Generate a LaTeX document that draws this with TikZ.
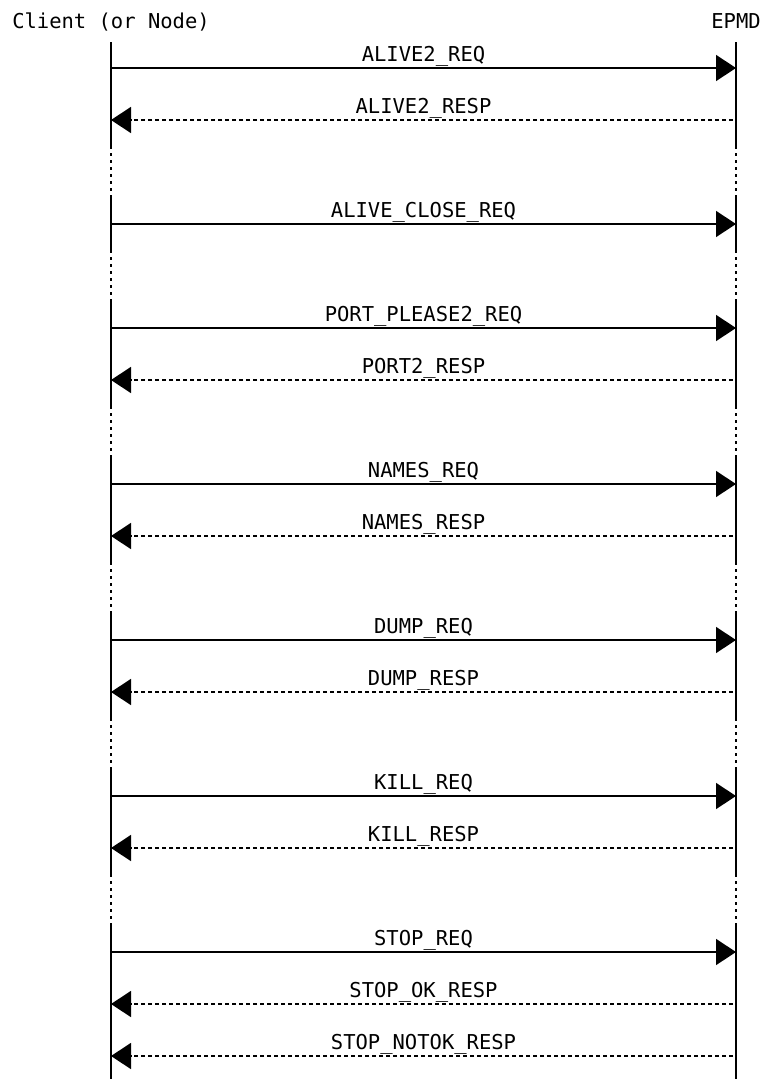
\documentclass[tikz,border=0pt]{standalone}
\usepackage{fontspec}
\setmonofont{DejaVu Sans Mono}
\usetikzlibrary{arrows.meta}

\begin{document}
\begin{tikzpicture}[x=1pt, y=-1pt,
  msglabel/.style={font=\ttfamily\fontsize{20.5}{24}\selectfont, anchor=base, inner sep=0pt},
  lifeline/.style={line width=1.8pt},
  gapline/.style={line width=1.8pt, dash pattern=on 3pt off 4pt},
  reqline/.style={line width=1.5pt, -{Triangle[length=20pt, width=26pt]}},
  respline/.style={line width=1.5pt, dash pattern=on 4pt off 3pt, -{Triangle[length=20pt, width=26pt]}}]
  \useasboundingbox (0,0) rectangle (760,1079);
  % Entities
  \node[msglabel] (client) at (111,28) {Client (or Node)};
  \node[msglabel] (epmd) at (736,28) {EPMD};
  % Lifelines, solid inside a block
  \foreach \a/\b in {0/2, 3/4, 5/7, 8/10, 11/13, 14/16, 17/20.7} {
    \coordinate (cs\a) at (111, 42+52*\a);
    \coordinate (ce\a) at (111, 42+52*\b);
    \coordinate (es\a) at (736, 42+52*\a);
    \coordinate (ee\a) at (736, 42+52*\b);
    \draw[lifeline] (cs\a) -- (ce\a);
    \draw[lifeline] (es\a) -- (ee\a);
  }
  % Lifelines, dotted between blocks
  \foreach \r in {2, 4, 7, 10, 13, 16} {
    \coordinate (cg\r) at (111, 42+52*\r);
    \coordinate (ch\r) at (111, 94+52*\r);
    \coordinate (eg\r) at (736, 42+52*\r);
    \coordinate (eh\r) at (736, 94+52*\r);
    \draw[gapline] (cg\r) -- (ch\r);
    \draw[gapline] (eg\r) -- (eh\r);
  }
  % Requests
  \foreach \r/\lab in {0/ALIVE2\_REQ, 3/ALIVE\_CLOSE\_REQ, 5/PORT\_PLEASE2\_REQ, 8/NAMES\_REQ,
                       11/DUMP\_REQ, 14/KILL\_REQ, 17/STOP\_REQ} {
    \coordinate (c\r) at (111, 68+52*\r);
    \coordinate (e\r) at (736, 68+52*\r);
    \draw[reqline] (c\r) -- (e\r);
    \node[msglabel] (l\r) at (423.5, 61+52*\r) {\lab};
  }
  % Responses
  \foreach \r/\lab in {1/ALIVE2\_RESP, 6/PORT2\_RESP, 9/NAMES\_RESP, 12/DUMP\_RESP,
                       15/KILL\_RESP, 18/STOP\_OK\_RESP, 19/STOP\_NOTOK\_RESP} {
    \coordinate (c\r) at (111, 68+52*\r);
    \coordinate (e\r) at (733, 68+52*\r);
    \draw[respline] (e\r) -- (c\r);
    \node[msglabel] (l\r) at (423.5, 61+52*\r) {\lab};
  }
\end{tikzpicture}
\end{document}
